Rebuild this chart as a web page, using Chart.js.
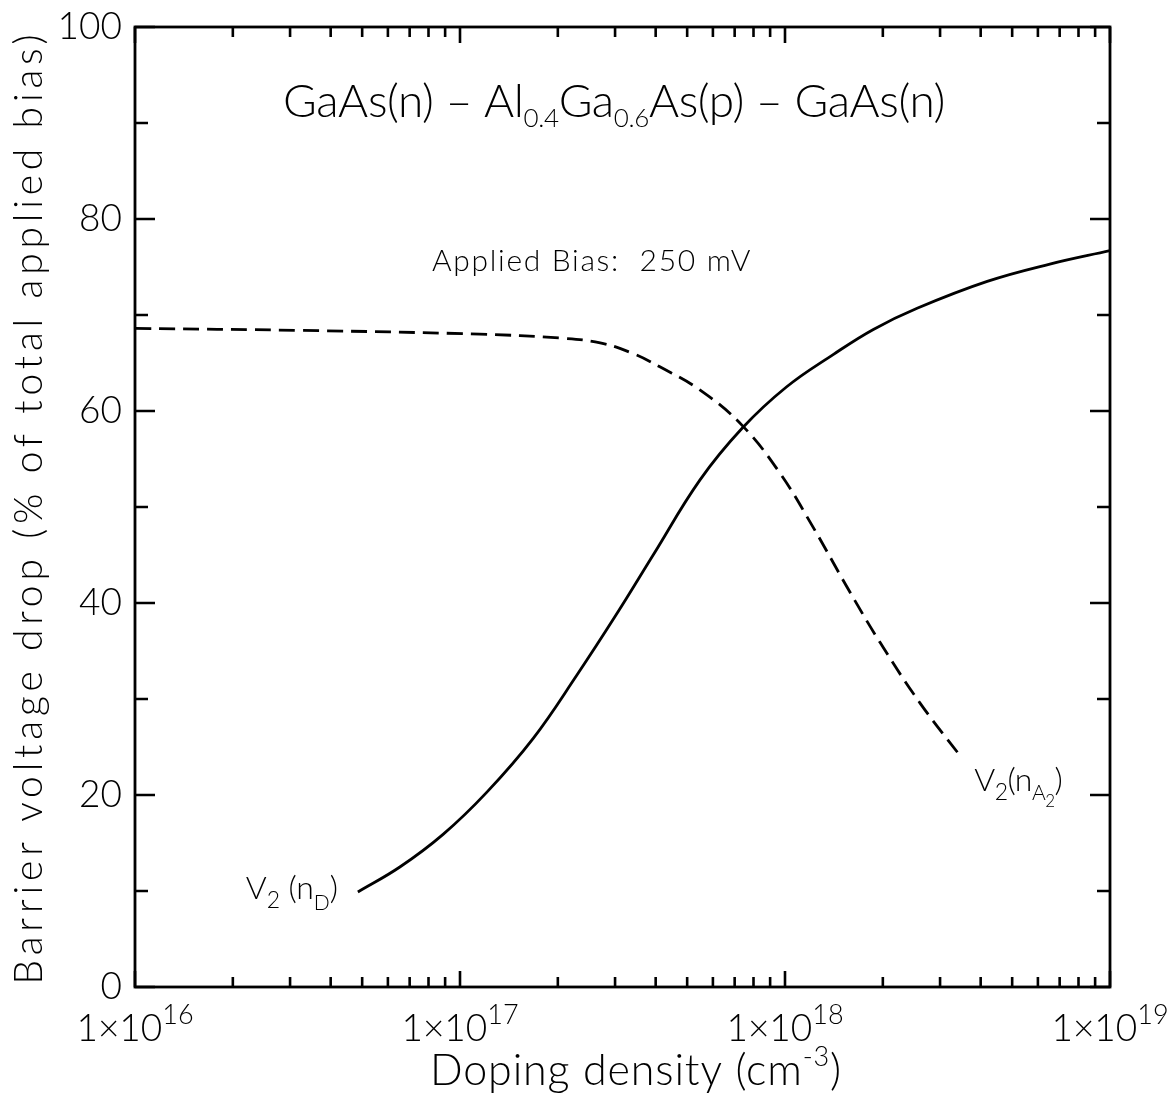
<!DOCTYPE html>
<html>
<head>
<meta charset="utf-8">
<script src="https://cdn.jsdelivr.net/npm/chart.js@4.4.0/dist/chart.umd.min.js"></script>
<style>
  html, body { margin: 0; padding: 0; background: #fff; }
  canvas { display: block; }
</style>
</head>
<body>
<canvas id="chart" width="1171" height="1103"></canvas>
<script>
// V2(nD): barrier drop vs donor doping
const donorDensity = [4.85e16, 6.53e16, 8.87e16, 1.21e17, 1.68e17, 2.29e17, 3.04e17, 3.93e17, 5.47e17, 7.38e17, 1.01e18, 1.41e18, 1.87e18, 2.55e18, 4.19e18, 6.53e18, 1e19];
const donorDrop = [9.9, 12.5, 15.9, 20.3, 25.9, 32.5, 38.9, 45.0, 52.8, 58.2, 62.5, 65.9, 68.5, 70.7, 73.5, 75.3, 76.7];

// V2(nA2): barrier drop vs acceptor doping
const acceptorDensity = [1e16, 3.2e16, 1.15e17, 2.03e17, 2.7e17, 3.4e17, 4.12e17, 5.47e17, 7.38e17, 9.66e17, 1.22e18, 1.55e18, 1.96e18, 2.6e18, 3.51e18];
const acceptorDrop = [68.6, 68.4, 68.0, 67.6, 67.1, 66.0, 64.6, 62.2, 58.5, 53.5, 47.9, 41.7, 35.9, 29.6, 23.8];

const yTicks = [0, 20, 40, 60, 80, 100];
const yMinorTicks = [10, 30, 50, 70, 90];
const xDecades = [16, 17, 18, 19];
const xMinorMultipliers = [2, 3, 4, 5, 6, 7, 8, 9];

const FONT = 'Lato, "Noto Sans", sans-serif';

const toPoints = (xs, ys) => xs.map((v, i) => ({ x: v, y: ys[i] }));

function font(size) {
  return `300 ${size}px ${FONT}`;
}

// draws a line of text made of runs (subscripts, superscripts), optionally
// stretched by letter spacing to a given width
function drawRuns(ctx, runs, x, y, align, target) {
  ctx.letterSpacing = '0px';
  let w0 = 0, n = 0;
  runs.forEach(r => {
    ctx.font = font(r.size);
    w0 += ctx.measureText(r.text).width;
    n += r.text.length;
  });
  let sp = target ? (target - w0) / n : 0;
  sp = Math.max(-3, Math.min(8, sp));
  let total = w0 + sp * n;
  let cx = align === 'center' ? x - total / 2 : align === 'right' ? x - total : x;
  ctx.letterSpacing = sp + 'px';
  ctx.textAlign = 'left';
  ctx.textBaseline = 'alphabetic';
  runs.forEach(r => {
    ctx.font = font(r.size);
    ctx.fillText(r.text, cx, y + (r.dy || 0));
    cx += ctx.measureText(r.text).width;
  });
  ctx.letterSpacing = '0px';
}

const frame = {
  id: 'frame',
  afterDatasetsDraw(chart) {
    const { ctx, chartArea: a, scales: { x, y } } = chart;
    ctx.save();
    ctx.strokeStyle = '#000';
    ctx.fillStyle = '#000';
    ctx.lineWidth = 2.8;
    ctx.lineCap = 'butt';
    ctx.strokeRect(a.left, a.top, a.right - a.left, a.bottom - a.top);

    // y ticks, pointing inward from both sides
    ctx.lineWidth = 2.6;
    const yTick = (v, len) => {
      const py = y.getPixelForValue(v);
      ctx.beginPath();
      ctx.moveTo(a.left, py); ctx.lineTo(a.left + len, py);
      ctx.moveTo(a.right, py); ctx.lineTo(a.right - len, py);
      ctx.stroke();
    };
    yTicks.forEach(v => yTick(v, 20));
    yMinorTicks.forEach(v => yTick(v, 13));

    // x ticks, pointing inward from top and bottom
    const xTick = (v, len) => {
      const px = x.getPixelForValue(v);
      ctx.beginPath();
      ctx.moveTo(px, a.bottom); ctx.lineTo(px, a.bottom - len);
      ctx.moveTo(px, a.top); ctx.lineTo(px, a.top + len);
      ctx.stroke();
    };
    xDecades.forEach((d, i) => {
      xTick(Math.pow(10, d), 16);
      if (i < xDecades.length - 1) {
        xMinorMultipliers.forEach(m => xTick(m * Math.pow(10, d), 10));
      }
    });

    // y tick labels
    ctx.font = font(37);
    ctx.textAlign = 'right';
    ctx.textBaseline = 'middle';
    yTicks.forEach(v => ctx.fillText(String(v), a.left - 13, y.getPixelForValue(v)));

    // x tick labels: 1×10^n
    xDecades.forEach(d => {
      drawRuns(ctx, [
        { text: '1×10', size: 37 },
        { text: String(d), size: 27, dy: -17 }
      ], x.getPixelForValue(Math.pow(10, d)), a.bottom + 54, 'center');
    });

    // axis titles
    drawRuns(ctx, [
      { text: 'Doping density (cm', size: 43 },
      { text: '-3', size: 27, dy: -19 },
      { text: ')', size: 43 }
    ], 636, 1085, 'center', 412);

    ctx.save();
    ctx.translate(42, 507);
    ctx.rotate(-Math.PI / 2);
    drawRuns(ctx, [{ text: 'Barrier voltage drop (% of total applied bias)', size: 39 }], 0, 0, 'center', 955);
    ctx.restore();

    // heading and bias note
    drawRuns(ctx, [
      { text: 'GaAs(n) – Al', size: 46 },
      { text: '0.4', size: 26, dy: 10 },
      { text: 'Ga', size: 46 },
      { text: '0.6', size: 26, dy: 10 },
      { text: 'As(p) – GaAs(n)', size: 46 }
    ], 614, 117, 'center', 662);
    drawRuns(ctx, [{ text: 'Applied Bias:  250 mV', size: 30 }], 592, 271, 'center', 320);

    // curve labels at the ends of each series
    const d0 = chart.getDatasetMeta(0).data[0];
    drawRuns(ctx, [
      { text: 'V', size: 32 },
      { text: '2', size: 23, dy: 9 },
      { text: ' (n', size: 32 },
      { text: 'D', size: 21, dy: 11 },
      { text: ')', size: 32 }
    ], d0.x - 20, d0.y + 7, 'right', 92);

    const m1 = chart.getDatasetMeta(1).data;
    const d1 = m1[m1.length - 1];
    drawRuns(ctx, [
      { text: 'V', size: 32 },
      { text: '2', size: 23, dy: 9 },
      { text: '(n', size: 32 },
      { text: 'A', size: 21, dy: 9 },
      { text: '2', size: 17, dy: 16 },
      { text: ')', size: 32 }
    ], d1.x + 12, d1.y + 32, 'left', 88);

    ctx.restore();
  }
};

new Chart(document.getElementById('chart'), {
  type: 'line',
  data: {
    datasets: [
      {
        label: 'V2(nD)',
        data: toPoints(donorDensity, donorDrop),
        borderColor: '#000',
        borderWidth: 2.8,
        tension: 0.4,
        pointRadius: 0,
        fill: false
      },
      {
        label: 'V2(nA2)',
        data: toPoints(acceptorDensity, acceptorDrop),
        borderColor: '#000',
        borderWidth: 2.8,
        borderDash: [16, 8],
        tension: 0.4,
        pointRadius: 0,
        fill: false
      }
    ]
  },
  options: {
    responsive: false,
    devicePixelRatio: 1,
    animation: false,
    layout: { padding: { left: 135, right: 61, top: 27, bottom: 116 } },
    plugins: { legend: { display: false }, tooltip: { enabled: false } },
    scales: {
      x: { type: 'logarithmic', min: 1e16, max: 1e19, display: false },
      y: { type: 'linear', min: 0, max: 100, display: false }
    }
  },
  plugins: [frame]
});
</script>
</body>
</html>
